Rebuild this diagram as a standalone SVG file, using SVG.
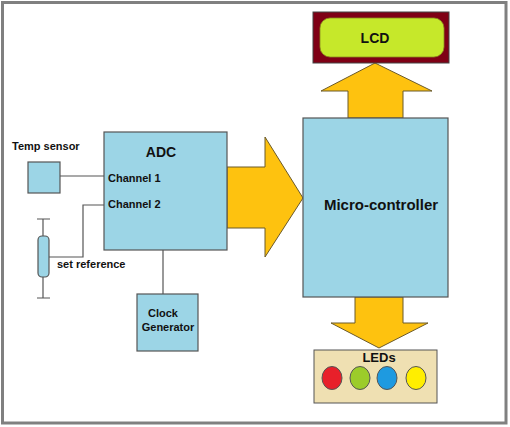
<svg xmlns="http://www.w3.org/2000/svg" width="510" height="427" viewBox="0 0 510 427">
<style>
.box{fill:#9cd5e6;stroke:#555;stroke-width:1.2}
.wire{fill:none;stroke:#555;stroke-width:1.2}
.arr{fill:#fec20f;stroke:#6b5a2a;stroke-width:1}
text{font-family:"Liberation Sans",Arial,sans-serif;font-weight:bold;fill:#111}
.s{font-size:11px}
.m{font-size:14px}
</style>
<rect x="0" y="0" width="510" height="427" fill="#fff"/>
<rect x="2.5" y="2.5" width="503.5" height="420.5" fill="none" stroke="#808080" stroke-width="3"/>
<g id="connectors">
<path class="wire" d="M60 176H105"/>
<path class="wire" d="M105 205H83V257H49"/>
<path class="wire" d="M163 250V294"/>
<path class="wire" d="M43 219V298M37 219H50M37 298H50"/>
<path class="arr" d="M227 167H265V137L303 198L265 257V228H227Z"/>
<path class="arr" d="M348 118V91H321L375 63L432 91H403V118Z"/>
<path class="arr" d="M355 297H403V323H428L379 348L331 323H355Z"/>
</g>
<g id="temp-sensor">
<text class="s" x="12" y="150">Temp sensor</text>
<rect class="box" x="28" y="162" width="32" height="31"/>
</g>
<g id="set-reference">
<rect class="box" x="38" y="236" width="11" height="41" rx="4"/>
<text class="s" x="57" y="268">set reference</text>
</g>
<g id="adc">
<rect class="box" x="104" y="132" width="123" height="118"/>
<text class="m" x="161" y="157" text-anchor="middle">ADC</text>
<text class="s" x="108" y="182">Channel 1</text>
<text class="s" x="108" y="208">Channel 2</text>
</g>
<g id="clock-generator">
<rect class="box" x="137" y="294" width="61" height="57"/>
<text class="s" x="163" y="317" text-anchor="middle">Clock</text>
<text class="s" x="168" y="331" text-anchor="middle">Generator</text>
</g>
<g id="micro-controller">
<rect class="box" x="303" y="118" width="145" height="179"/>
<text x="381" y="210" text-anchor="middle" font-size="15">Micro-controller</text>
</g>
<g id="lcd">
<rect x="313" y="12" width="136" height="51" fill="#7f0015" stroke="#444" stroke-width="1"/>
<rect x="320" y="18" width="124" height="39" rx="10" fill="#c6e82a" stroke="#8a8a20" stroke-width="0.8"/>
<text class="m" x="375" y="43" text-anchor="middle">LCD</text>
</g>
<g id="leds">
<rect x="314" y="350" width="123" height="53" fill="#efe0b2" stroke="#555" stroke-width="1"/>
<text x="379" y="362" text-anchor="middle" font-size="13">LEDs</text>
<ellipse cx="332" cy="378" rx="10" ry="11.5" fill="#e8202a" stroke="#555"/>
<ellipse cx="360" cy="378" rx="10" ry="11.5" fill="#9ccc2a" stroke="#555"/>
<ellipse cx="387" cy="378" rx="10" ry="11.5" fill="#1e9ae0" stroke="#555"/>
<ellipse cx="416" cy="378" rx="10" ry="11.5" fill="#ffee00" stroke="#555"/>
</g>
</svg>
